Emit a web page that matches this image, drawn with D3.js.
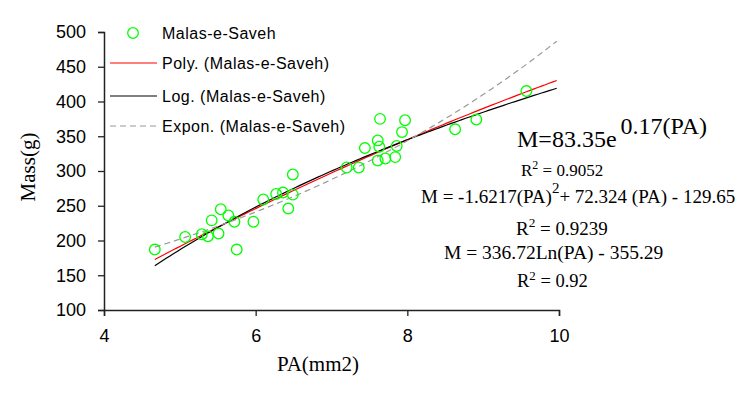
<!DOCTYPE html>
<html>
<head>
<meta charset="utf-8">
<script src="https://cdn.jsdelivr.net/npm/d3@7"></script>
<style>
	body { margin: 0; background: #fff; }
	svg { display: block; }
</style>
</head>
<body>
<div id="chart"></div>
<script>
// measured points (PA, Mass)
const paValues = [4.67, 5.07, 5.29, 5.37, 5.51, 5.42, 5.54, 5.64, 5.72, 5.75,
	5.97, 6.10, 6.27, 6.36, 6.49, 6.43, 6.49, 7.20, 7.36, 7.44,
	7.61, 7.61, 7.64, 7.63, 7.71, 7.84, 7.86, 7.93, 7.97, 8.63,
	8.91, 9.57];
const massValues = [187, 205, 209, 206, 210, 229, 245, 236, 227, 187,
	227, 259, 267, 269, 266, 246, 295, 305, 305, 333,
	315, 344, 375, 335, 318, 320, 336, 356, 373, 360,
	374, 415];

const xTicks = [4, 6, 8, 10];
const yTicks = [100, 150, 200, 250, 300, 350, 400, 450, 500];

// trendline coefficients
const polyCoef = [-129.65, 72.324, -1.6217]; // c0 + c1 x + c2 x^2
const logCoef = [336.72, -355.29];           // a ln(x) + b
const expCoef = [83.35, 0.177];              // a e^(b x)

const legendNames = ["Malas-e-Saveh", "Poly. (Malas-e-Saveh)", "Log. (Malas-e-Saveh)", "Expon. (Malas-e-Saveh)"];

const width = 755, height = 396;
const margin = {left: 104, right: 196, top: 32, bottom: 86};

const svg = d3.select("#chart").append("svg")
	.attr("width", width)
	.attr("height", height);

svg.append("rect").attr("width", width).attr("height", height).attr("fill", "#fff");

const x = d3.scaleLinear().domain([4, 10]).range([margin.left, width - margin.right]);
const y = d3.scaleLinear().domain([100, 500]).range([height - margin.bottom, margin.top]);

const data = paValues.map((p, i) => ({pa: p, mass: massValues[i]}));

// trendlines
const xs = d3.range(d3.min(paValues), 10.001, 0.05);
const line = d3.line().x(d => x(d[0])).y(d => y(d[1]));

const trends = [
	{fn: v => polyCoef[0] + polyCoef[1] * v + polyCoef[2] * v * v, color: "#ff0000", dash: null},
	{fn: v => logCoef[0] * Math.log(v) + logCoef[1], color: "#000", dash: null},
	{fn: v => expCoef[0] * Math.exp(expCoef[1] * v), color: "#999", dash: "6,4"}
];

svg.append("g")
	.selectAll("path")
	.data(trends)
	.join("path")
	.attr("d", t => line(xs.map(v => [v, t.fn(v)])))
	.attr("fill", "none")
	.attr("stroke", t => t.color)
	.attr("stroke-width", 1.2)
	.attr("stroke-dasharray", t => t.dash);

// points
svg.append("g")
	.selectAll("circle")
	.data(data)
	.join("circle")
	.attr("cx", d => x(d.pa))
	.attr("cy", d => y(d.mass))
	.attr("r", 5.3)
	.attr("fill", "none")
	.attr("stroke", "#00ff00")
	.attr("stroke-width", 1.3);

// axes
const xAxis = svg.append("g")
	.attr("transform", `translate(0,${height - margin.bottom})`)
	.call(d3.axisBottom(x).tickValues(xTicks).tickSize(6).tickPadding(13).tickFormat(d3.format("d")));
const yAxis = svg.append("g")
	.attr("transform", `translate(${margin.left},0)`)
	.call(d3.axisLeft(y).tickValues(yTicks).tickSize(6).tickPadding(12).tickFormat(d3.format("d")));

[xAxis, yAxis].forEach(g => {
	g.select(".domain").attr("stroke", "#222").attr("stroke-width", 1.5);
	g.selectAll(".tick line").attr("stroke", "#222").attr("stroke-width", 1.3);
	g.selectAll("text")
		.attr("fill", "#000")
		.style("font", "18px 'Liberation Sans', Arial, sans-serif");
});

// axis titles
svg.append("text")
	.attr("x", 318).attr("y", 371)
	.attr("text-anchor", "middle")
	.style("font", "21px 'Liberation Serif', 'Times New Roman', serif")
	.text("PA(mm2)");

svg.append("text")
	.attr("transform", "translate(35,167) rotate(-90)")
	.attr("text-anchor", "middle")
	.style("font", "21px 'Liberation Serif', 'Times New Roman', serif")
	.text("Mass(g)");

// legend
const legend = svg.append("g")
	.selectAll("g")
	.data(legendNames)
	.join("g")
	.attr("transform", (d, i) => `translate(0,${[33, 63, 96, 126][i]})`);

legend.append("text")
	.attr("x", 162).attr("y", 5.5)
	.style("font", "16px 'Liberation Sans', Arial, sans-serif")
	.style("letter-spacing", "0.5px")
	.text(d => d);

legend.filter((d, i) => i === 0).append("circle")
	.attr("cx", 133).attr("cy", 0).attr("r", 5.3)
	.attr("fill", "none").attr("stroke", "#00ff00").attr("stroke-width", 1.3);

legend.filter((d, i) => i > 0).append("line")
	.attr("x1", 110).attr("x2", 157)
	.attr("stroke", (d, i) => trends[i].color)
	.attr("stroke-width", 1.2)
	.attr("stroke-dasharray", (d, i) => trends[i].dash);

// equations
const serif = "'Liberation Serif', 'Times New Roman', serif";

const eq1 = svg.append("text").attr("x", 517).attr("y", 147).style("font-family", serif).style("font-size", "24px");
eq1.append("tspan").text("M=83.35e");
eq1.append("tspan").attr("dx", 4).attr("dy", -13).text("0.17(PA)");

const r2 = (xx, yy, size, val) => {
	const t = svg.append("text").attr("x", xx).attr("y", yy).style("font-family", serif).style("font-size", size + "px");
	t.append("tspan").text("R");
	t.append("tspan").attr("dy", -size * 0.4).style("font-size", (size * 0.7) + "px").text("2");
	t.append("tspan").attr("dy", size * 0.4).text(" = " + val);
};

r2(521, 176, 17, "0.9052");

const eq2 = svg.append("text").attr("x", 421).attr("y", 203).style("font-family", serif).style("font-size", "19px");
eq2.append("tspan").text("M = -1.6217(PA)");
eq2.append("tspan").attr("dy", -10).style("font-size", "15px").text("2");
eq2.append("tspan").attr("dy", 10).text("+ 72.324 (PA)  - 129.65");

r2(516, 235, 19, "0.9239");

svg.append("text").attr("x", 444).attr("y", 259).style("font-family", serif).style("font-size", "19.5px")
	.text("M = 336.72Ln(PA) - 355.29");

r2(517, 287, 18.5, "0.92");
</script>
</body>
</html>
